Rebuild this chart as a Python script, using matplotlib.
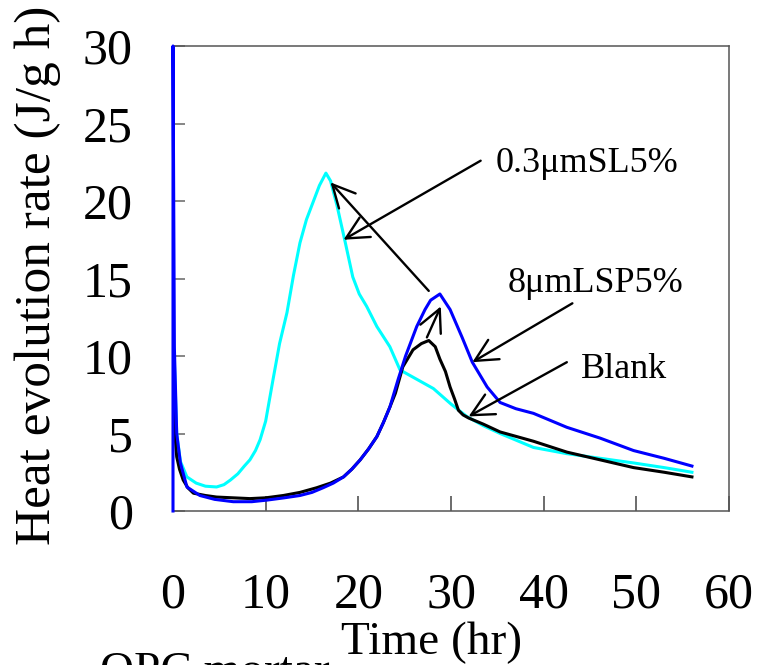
import matplotlib
matplotlib.use("Agg")
import matplotlib.pyplot as plt

plt.rcParams['font.family'] = ['Liberation Serif', 'DejaVu Serif']

# 0.3umSL5% (cyan)
t_sl = [0, 0.1, 0.4, 0.8, 1.5, 2.5, 3.5, 4.7, 5.5, 6.2, 7.0, 7.7, 8.3, 8.9, 9.4, 10.0,
        10.8, 11.5, 12.3, 13.0, 13.7, 14.4, 15.1, 15.8, 16.5, 17.0, 17.7, 18.6, 19.4,
        20.1, 20.9, 22.0, 23.4, 24.5, 26.0, 28.1, 30.0, 31.7, 33.5, 35.3, 38.9, 42.5,
        46.1, 49.7, 53.0, 56.0]
v_sl = [10.8, 10.5, 5.0, 3.2, 2.2, 1.8, 1.6, 1.55, 1.7, 2.0, 2.4, 2.9, 3.3, 3.9, 4.6, 5.8,
        8.5, 10.8, 12.8, 15.2, 17.3, 18.8, 19.9, 21.0, 21.8, 21.3, 19.7, 17.3, 15.1,
        14.0, 13.2, 11.9, 10.6, 9.1, 8.6, 7.9, 6.9, 6.1, 5.5, 5.0, 4.1, 3.7,
        3.4, 3.1, 2.8, 2.5]

# 8umLSP5% (blue)
t_lsp = [0, 0.0, 0.15, 0.4, 0.8, 1.5, 2.9, 4.5, 6.5, 8.5, 10.1, 12.0, 13.7, 15.0, 16.2,
         17.3, 18.4, 19.3, 20.2, 21.1, 22.0, 22.7, 23.4, 24.3, 25.1, 26.3, 27.2, 27.8,
         28.8, 29.9, 31.2, 32.3, 33.9, 35.3, 37.0, 38.9, 42.5, 46.1, 49.7, 53.0, 56.0]
v_lsp = [0, 30, 10.5, 5.0, 3.1, 1.55, 1.0, 0.75, 0.6, 0.6, 0.7, 0.85, 1.0, 1.2, 1.5,
         1.8, 2.2, 2.7, 3.3, 4.0, 4.8, 5.7, 6.7, 8.5, 10.0, 11.9, 13.0, 13.6,
         14.0, 13.0, 11.2, 9.6, 8.0, 7.0, 6.6, 6.3, 5.4, 4.7, 3.9, 3.4, 2.9]

# Blank (black)
t_bl = [0, 0.05, 0.2, 0.4, 0.7, 1.1, 1.6, 2.2, 3.5, 4.7, 6.5, 8.3, 10.0, 11.9, 13.7, 15.5,
        17.0, 18.4, 19.3, 20.2, 21.1, 22.0, 22.7, 23.4, 24.0, 24.8, 25.9, 26.8, 27.6,
        28.3, 28.8, 29.4, 29.9, 30.4, 30.8, 31.3, 31.9, 33.5, 35.3, 38.9, 42.5, 46.1,
        49.7, 53.0, 56.0]
v_bl = [10.0, 8.0, 5.0, 3.5, 2.7, 2.0, 1.5, 1.15, 1.0, 0.9, 0.85, 0.8, 0.85, 1.0, 1.2, 1.5,
        1.8, 2.2, 2.7, 3.3, 4.0, 4.8, 5.7, 6.7, 7.6, 9.3, 10.4, 10.8, 11.0,
        10.6, 9.8, 9.0, 8.0, 7.2, 6.5, 6.2, 6.0, 5.6, 5.1, 4.5, 3.8, 3.3,
        2.8, 2.5, 2.2]

x_ticks = [0, 10, 20, 30, 40, 50, 60]
y_ticks = [0, 5, 10, 15, 20, 25, 30]

fig = plt.figure(figsize=(7.61, 6.65), dpi=100)
ax = fig.add_axes([173 / 761, 1 - 511 / 665, 556 / 761, 465 / 665])

ax.plot(t_sl, v_sl, color='#00FFFF', lw=2.2)
ax.plot(t_bl, v_bl, color='black', lw=2.2)
ax.plot(t_lsp, v_lsp, color='#0000FF', lw=2.2, clip_on=False, zorder=3)

ax.set_xlim(0, 60)
ax.set_ylim(0, 30)
ax.set_xticks(x_ticks)
ax.set_yticks(y_ticks)
ax.tick_params(axis='x', direction='in', length=11, width=1.1, color='#444444',
               labelsize=36, pad=44)
ax.tick_params(axis='y', direction='in', length=8.5, width=1.1, color='#666666',
               labelsize=36, pad=29)
for s in ax.spines.values():
    s.set_color('#555555')
    s.set_linewidth(1.1)

# arrows and labels
arrow = dict(arrowstyle='->,head_length=0.7,head_width=0.35', color='black', lw=1.7,
             mutation_scale=23, shrinkA=0, shrinkB=0)
ax.annotate('', xy=(18.4, 17.5), xytext=(33.2, 22.6), arrowprops=arrow)
ax.annotate('', xy=(17.0, 21.2), xytext=(27.6, 14.2), arrowprops=arrow)
ax.annotate('', xy=(28.9, 13.2), xytext=(27.4, 11.2), arrowprops=arrow)
ax.annotate('', xy=(32.3, 9.6), xytext=(43.1, 13.4), arrowprops=arrow)
ax.annotate('', xy=(31.9, 6.1), xytext=(42.5, 9.6), arrowprops=arrow)
ax.text(34.8, 21.85, '0.3μmSL5%', fontsize=26, va='baseline', ha='left')
ax.text(36.1, 14.1, '8μmLSP5%', fontsize=26, va='baseline', ha='left')
ax.text(44.0, 8.6, 'Blank', fontsize=26, va='baseline', ha='left')

fig.text(38 / 761, 1 - 545 / 665, 'Heat evolution rate (J/g h)', rotation=90,
         fontsize=37, ha='center', va='bottom')
fig.text(432 / 761, 1 - 622 / 665, 'Time (hr)', fontsize=34, ha='center', va='top')
fig.text(100 / 761, 1 - 652 / 665, 'OPC mortar', fontsize=34, ha='left', va='top')

fig.savefig('out.png', dpi=100)
